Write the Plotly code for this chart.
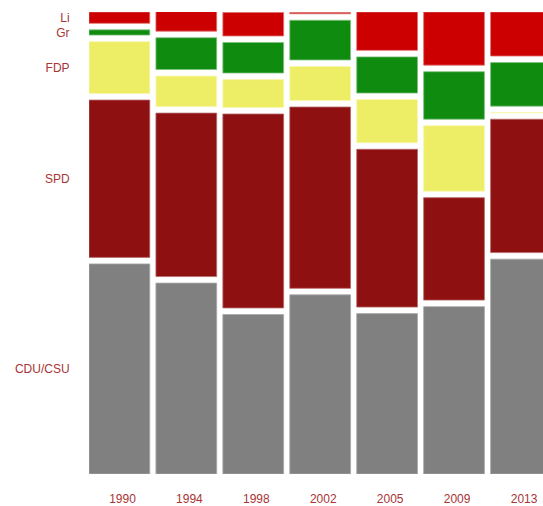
import plotly.graph_objects as go

years = ["1990", "1994", "1998", "2002", "2005", "2009", "2013"]
parties = ["CDU/CSU", "SPD", "FDP", "Gr", "Li"]
cdu = [48.2, 43.8, 36.6, 41.1, 36.8, 38.4, 49.3]
spd = [36.1, 37.5, 44.5, 41.6, 36.2, 23.5, 30.6]
fdp = [11.9, 7.0, 6.4, 7.8, 9.9, 15.0, 0.0]
gr = [1.2, 7.3, 7.0, 9.1, 8.3, 10.9, 10.0]
li = [2.6, 4.5, 5.4, 0.3, 8.8, 12.2, 10.1]
colors = ["#808080", "#8e1010", "#eeee66", "#0f8c0f", "#cc0000"]
edge = ["#a8a8a8", "#b86a6a", "#f6f6b0", "#7fc07f", "#e07070"]

series = [cdu, spd, fdp, gr, li]
GAP = 1.5  # vertical spacing between segments (data units)

fig = go.Figure()
cum = [0.0] * len(years)
tickvals = []
for k, (name, vals) in enumerate(zip(parties, series)):
    base = [c + k * GAP for c in cum]
    fig.add_trace(go.Bar(
        x=list(range(len(years))), y=vals, base=base, name=name,
        width=0.908, offset=-0.5,
        marker=dict(color=colors[k], line=dict(color=edge[k], width=0.8)),
        showlegend=False,
    ))
    tickvals.append(base[0] + vals[0] / 2)
    cum = [c + v for c, v in zip(cum, vals)]

total = 100 + 4 * GAP
label_font = dict(family="Liberation Sans, Arial, sans-serif", size=12, color="#a83434")

fig.update_layout(
    width=543, height=506,
    margin=dict(l=89, r=0, t=12, b=32),
    paper_bgcolor="white", plot_bgcolor="white",
    barmode="overlay",
    xaxis=dict(
        range=[-0.5, -0.5 + (543 - 89) / 66.93],
        tickvals=list(range(len(years))), ticktext=years,
        showgrid=False, zeroline=False, showline=False,
        ticks="outside", ticklen=14, tickcolor="rgba(0,0,0,0)",
        tickfont=label_font,
    ),
    yaxis=dict(
        range=[0, total],
        tickvals=tickvals, ticktext=parties,
        showgrid=False, zeroline=False, showline=False,
        ticks="outside", ticklen=16, tickcolor="rgba(0,0,0,0)",
        tickfont=label_font,
    ),
)

fig.write_html(
    "out.html",
    config={"displayModeBar": False},
    post_script="document.body.style.margin='0px';document.body.style.overflow='hidden';",
)
